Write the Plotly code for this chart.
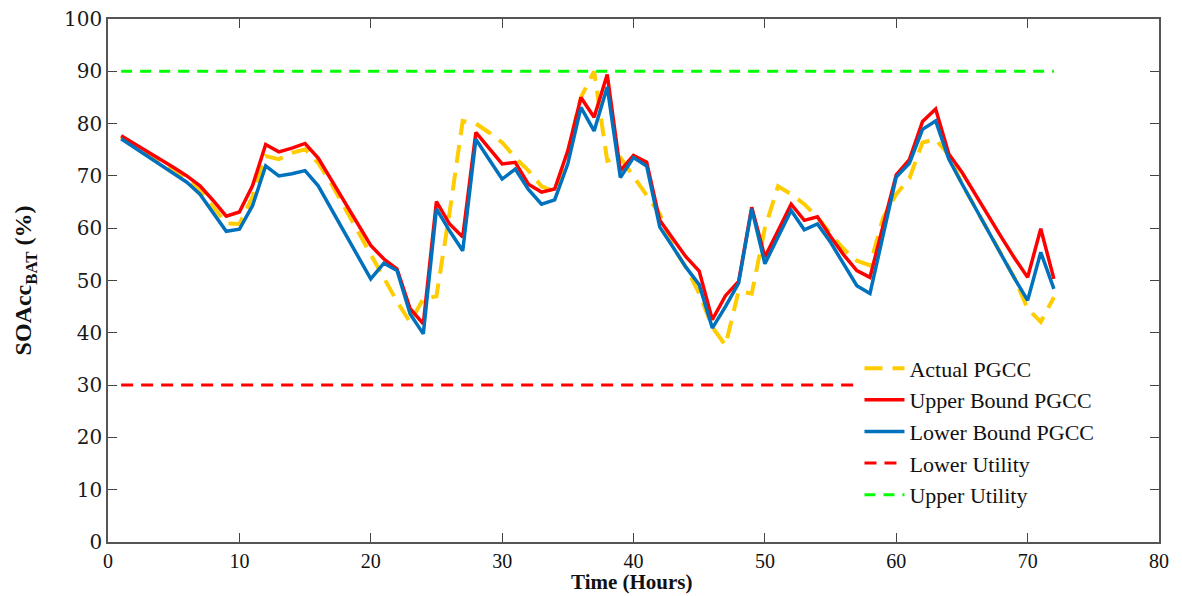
import plotly.graph_objects as go

hours = list(range(1, 73))

actual_pgcc = [77.5, 75.8, 74.2, 72.6, 71.0, 69.3, 67.3, 64.0, 60.9, 60.8,
               66.0, 73.8, 73.2, 74.4, 75.1, 72.5, 68.5, 64.0, 59.5, 55.0,
               50.6, 46.0, 42.0, 46.5, 47.0, 63.0, 80.5, 80.0, 78.3, 76.4,
               73.5, 71.0, 68.0, 67.0, 74.5, 85.0, 90.0, 72.9, 73.5, 70.0,
               66.5, 62.7, 56.4, 52.5, 47.5, 41.1, 37.6, 48.0, 47.5, 60.0,
               68.0, 66.5, 64.6, 62.1, 58.9, 56.0, 53.8, 52.9, 62.0, 66.5,
               69.5, 76.4, 77.0, 74.0, 68.5, 64.0, 59.5, 55.0, 50.5, 44.6,
               42.1, 46.8]

upper_pgcc = [77.7, 76.2, 74.6, 73.1, 71.6, 70.0, 68.1, 65.3, 62.3, 63.1,
              68.1, 76.0, 74.6, 75.3, 76.2, 73.4, 69.2, 64.9, 60.8, 56.7,
              54.1, 52.2, 44.6, 41.7, 65.1, 60.8, 58.3, 78.3, 75.3, 72.3,
              72.6, 68.4, 66.9, 67.5, 74.8, 85.0, 81.2, 89.4, 71.0, 73.9,
              72.6, 61.5, 58.0, 54.5, 51.8, 42.5, 47.1, 49.8, 64.0, 54.5,
              59.5, 64.6, 61.5, 62.2, 58.4, 54.9, 51.9, 50.6, 60.5, 70.2,
              73.1, 80.4, 82.8, 74.2, 70.7, 66.5, 62.4, 58.3, 54.3, 50.6,
              59.9, 50.3]

lower_pgcc = [77.1, 75.4, 73.8, 72.2, 70.5, 68.8, 66.5, 63.0, 59.4, 59.8,
              64.3, 71.9, 70.0, 70.4, 71.0, 68.1, 63.7, 59.0, 54.7, 50.3,
              53.3, 51.9, 43.6, 39.8, 63.7, 59.5, 55.7, 77.0, 73.2, 69.4,
              71.3, 67.4, 64.6, 65.4, 72.3, 83.1, 78.6, 87.0, 69.7, 73.5,
              71.9, 60.2, 56.4, 52.5, 49.2, 40.9, 45.0, 49.5, 63.7, 53.2,
              58.3, 63.4, 59.7, 60.8, 57.3, 53.2, 49.0, 47.5, 58.6, 69.8,
              72.4, 78.9, 80.5, 73.2, 68.5, 63.9, 59.4, 54.9, 50.4, 46.2,
              55.4, 48.4]

lower_utility = [30] * len(hours)
upper_utility = [90] * len(hours)

x_ticks = [0, 10, 20, 30, 40, 50, 60, 70, 80]
y_ticks = [0, 10, 20, 30, 40, 50, 60, 70, 80, 90, 100]

fig = go.Figure()
fig.add_trace(go.Scatter(x=hours, y=actual_pgcc, mode="lines", name="Actual PGCC",
                         line=dict(color="#FFCC00", width=4, dash="18px,10px")))
fig.add_trace(go.Scatter(x=hours, y=upper_pgcc, mode="lines", name="Upper Bound PGCC",
                         line=dict(color="#FF0000", width=3.5)))
fig.add_trace(go.Scatter(x=hours, y=lower_pgcc, mode="lines", name="Lower Bound PGCC",
                         line=dict(color="#0072BD", width=3.5)))
fig.add_trace(go.Scatter(x=hours, y=lower_utility, mode="lines", name="Lower Utility",
                         line=dict(color="#FF0000", width=3, dash="12px,8px")))
fig.add_trace(go.Scatter(x=hours, y=upper_utility, mode="lines", name="Upper Utility",
                         line=dict(color="#00FF00", width=3, dash="11px,8px")))

axis_common = dict(showline=True, linecolor="#555555", linewidth=1.5, mirror="ticks",
                   ticks="inside", ticklen=9, tickcolor="#444444", tickwidth=1.2,
                   showgrid=False, zeroline=False, automargin=False)

title_font = dict(family="Liberation Serif", color="#111111")

fig.update_layout(
    width=1182, height=596,
    margin=dict(l=108, r=23, t=19, b=54),
    paper_bgcolor="white", plot_bgcolor="white",
    showlegend=True,
    legend=dict(x=0.715, y=0.372, xanchor="left", yanchor="top",
                bgcolor="white", borderwidth=0, itemwidth=40,
                font=dict(family="Liberation Serif", size=22, color="#111111"),
                tracegroupgap=0),
    xaxis=dict(range=[0, 80], tickvals=x_ticks, ticklabelstandoff=0,
               tickfont=dict(family="Liberation Serif", size=20, color="#111111"),
               **axis_common),
    yaxis=dict(range=[0, 100], tickvals=y_ticks,
               tickfont=dict(family="DejaVu Serif", size=20, color="#1a1a1a"),
               **axis_common),
    annotations=[
        dict(text="<b>Time (Hours)</b>", xref="paper", yref="paper",
             x=0.499, y=-0.1025, xanchor="center", yanchor="bottom",
             showarrow=False, font=dict(size=21, **title_font)),
        dict(text="<b>SOAcc<sub>BAT</sub> (%)</b>", xref="paper", yref="paper",
             x=-0.079, y=0.5, xanchor="center", yanchor="middle", textangle=-90,
             showarrow=False, font=dict(size=24, **title_font)),
    ],
)

fig.write_html("out.html")
